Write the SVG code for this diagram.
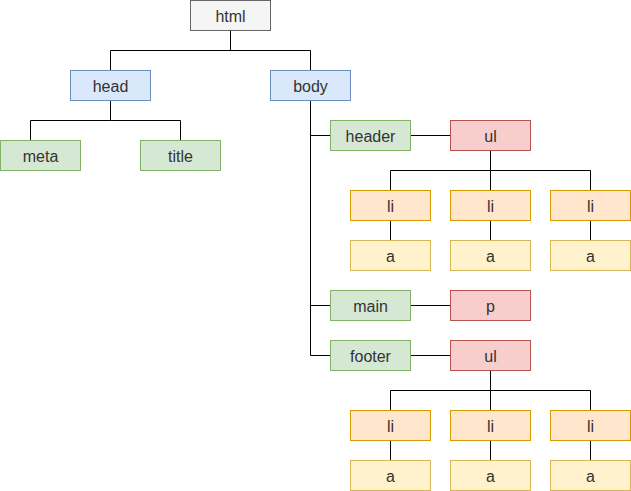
<svg xmlns="http://www.w3.org/2000/svg" width="631" height="491" viewBox="0 0 631 491">
<style>
rect{stroke-width:1}
text{font-family:"Liberation Sans",Arial,sans-serif;font-size:16px;text-anchor:middle;fill:#333333}
.gray{fill:#f5f5f5;stroke:#666666}
.blue{fill:#dae8fc;stroke:#6c8ebf}
.green{fill:#d5e8d4;stroke:#82b366}
.red{fill:#f8cecc;stroke:#b85450}
.orange{fill:#ffe6cc;stroke:#d79b00}
.yellow{fill:#fff2cc;stroke:#d6b656}
#connectors path{fill:none;stroke:#000;stroke-width:1}
</style>
<rect width="631" height="491" fill="#ffffff"/>
<g id="connectors">
<path d="M230.5 30.5V50.5H110.5V70.5M230.5 50.5H310.5V70.5"/>
<path d="M110.5 100.5V120.5H30.5V140.5M110.5 120.5H180.5V140.5"/>
<path d="M310.5 100.5V355.5H330.5M310.5 135.5H330.5M310.5 305.5H330.5"/>
<path d="M410.5 135.5H450.5M410.5 305.5H450.5M410.5 355.5H450.5"/>
<path d="M490.5 150.5V190.5M390.5 190.5V170.5H590.5V190.5"/>
<path d="M390.5 220.5V240.5M490.5 220.5V240.5M590.5 220.5V240.5"/>
<path d="M490.5 370.5V410.5M390.5 410.5V390.5H590.5V410.5"/>
<path d="M390.5 440.5V460.5M490.5 440.5V460.5M590.5 440.5V460.5"/>
</g>
<g id="html"><rect class="gray" x="190.5" y="0.5" width="80" height="30"/><text x="230.5" y="22">html</text></g>
<g id="head"><rect class="blue" x="70.5" y="70.5" width="80" height="30"/><text x="110.5" y="92">head</text></g>
<g id="body"><rect class="blue" x="270.5" y="70.5" width="80" height="30"/><text x="310.5" y="92">body</text></g>
<g id="meta"><rect class="green" x="0.5" y="140.5" width="80" height="30"/><text x="40.5" y="162">meta</text></g>
<g id="title"><rect class="green" x="140.5" y="140.5" width="80" height="30"/><text x="180.5" y="162">title</text></g>
<g id="header"><rect class="green" x="330.5" y="120.5" width="80" height="30"/><text x="370.5" y="142">header</text></g>
<g id="ul1"><rect class="red" x="450.5" y="120.5" width="80" height="30"/><text x="490.5" y="142">ul</text></g>
<g id="li1"><rect class="orange" x="350.5" y="190.5" width="80" height="30"/><text x="390.5" y="212">li</text></g>
<g id="li2"><rect class="orange" x="450.5" y="190.5" width="80" height="30"/><text x="490.5" y="212">li</text></g>
<g id="li3"><rect class="orange" x="550.5" y="190.5" width="80" height="30"/><text x="590.5" y="212">li</text></g>
<g id="a1"><rect class="yellow" x="350.5" y="240.5" width="80" height="30"/><text x="390.5" y="262">a</text></g>
<g id="a2"><rect class="yellow" x="450.5" y="240.5" width="80" height="30"/><text x="490.5" y="262">a</text></g>
<g id="a3"><rect class="yellow" x="550.5" y="240.5" width="80" height="30"/><text x="590.5" y="262">a</text></g>
<g id="main"><rect class="green" x="330.5" y="290.5" width="80" height="30"/><text x="370.5" y="312">main</text></g>
<g id="p"><rect class="red" x="450.5" y="290.5" width="80" height="30"/><text x="490.5" y="312">p</text></g>
<g id="footer"><rect class="green" x="330.5" y="340.5" width="80" height="30"/><text x="370.5" y="362">footer</text></g>
<g id="ul2"><rect class="red" x="450.5" y="340.5" width="80" height="30"/><text x="490.5" y="362">ul</text></g>
<g id="li4"><rect class="orange" x="350.5" y="410.5" width="80" height="30"/><text x="390.5" y="432">li</text></g>
<g id="li5"><rect class="orange" x="450.5" y="410.5" width="80" height="30"/><text x="490.5" y="432">li</text></g>
<g id="li6"><rect class="orange" x="550.5" y="410.5" width="80" height="30"/><text x="590.5" y="432">li</text></g>
<g id="a4"><rect class="yellow" x="350.5" y="460.5" width="80" height="30"/><text x="390.5" y="482">a</text></g>
<g id="a5"><rect class="yellow" x="450.5" y="460.5" width="80" height="30"/><text x="490.5" y="482">a</text></g>
<g id="a6"><rect class="yellow" x="550.5" y="460.5" width="80" height="30"/><text x="590.5" y="482">a</text></g>
</svg>
